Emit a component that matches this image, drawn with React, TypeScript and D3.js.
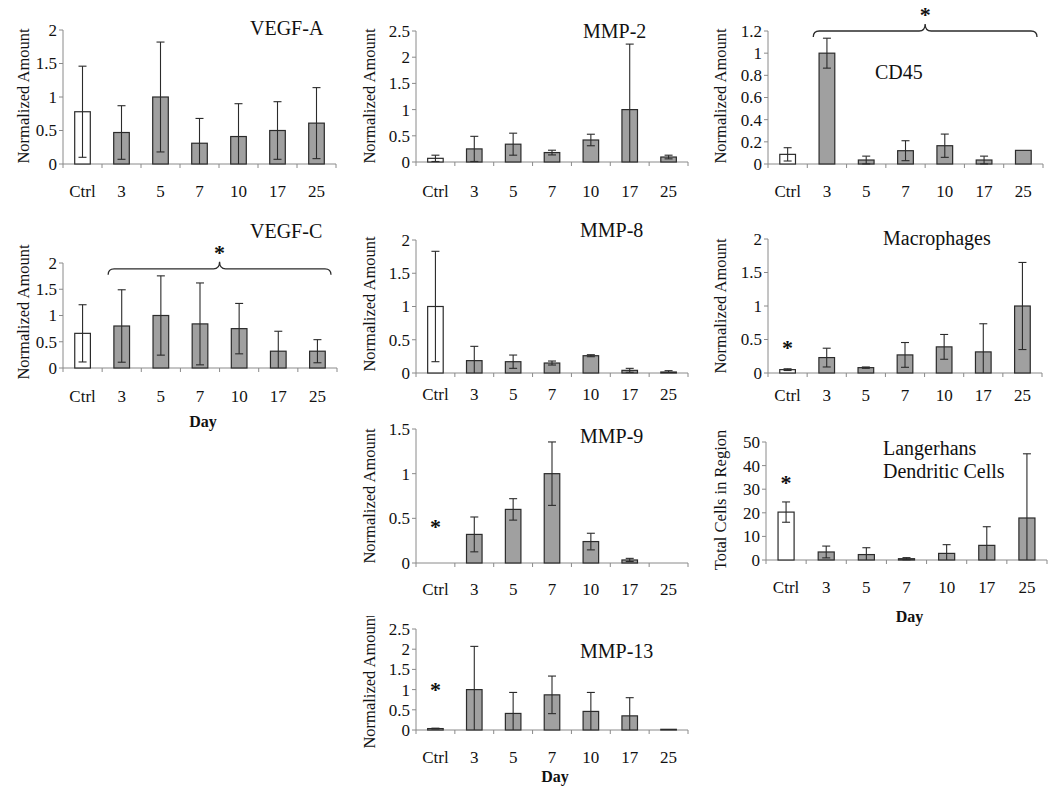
import * as d3 from 'd3';

// Day categories shared by every panel
const categories = ['Ctrl', '3', '5', '7', '10', '17', '25'];

// Values (mean, +/- error)
const vegfA = [0.78, 0.47, 1.0, 0.31, 0.41, 0.5, 0.61];
const vegfAErr = [0.68, 0.4, 0.82, 0.37, 0.49, 0.43, 0.53];
const mmp2 = [0.07, 0.25, 0.34, 0.18, 0.42, 1.0, 0.095];
const mmp2Err = [0.06, 0.24, 0.21, 0.045, 0.11, 1.25, 0.035];
const cd45 = [0.087, 1.0, 0.036, 0.12, 0.165, 0.036, 0.123];
const cd45Err = [0.06, 0.135, 0.035, 0.09, 0.105, 0.035, 0];
const vegfC = [0.66, 0.8, 1.0, 0.84, 0.75, 0.32, 0.32];
const vegfCErr = [0.545, 0.69, 0.755, 0.78, 0.48, 0.38, 0.22];
const mmp8 = [1.0, 0.186, 0.17, 0.15, 0.26, 0.04, 0.015];
const mmp8Err = [0.83, 0.215, 0.1, 0.03, 0.015, 0.03, 0.02];
const macrophages = [0.05, 0.23, 0.08, 0.27, 0.39, 0.315, 1.0];
const macrophagesErr = [0.013, 0.14, 0.01, 0.185, 0.185, 0.42, 0.65];
const mmp9 = [0, 0.32, 0.6, 1.0, 0.24, 0.034, 0];
const mmp9Err = [0, 0.195, 0.12, 0.355, 0.093, 0.018, 0];
const langerhans = [20.3, 3.4, 2.3, 0.55, 2.8, 6.2, 17.8];
const langerhansErr = [4.3, 2.5, 2.9, 0.45, 3.7, 7.9, 27.2];
const mmp13 = [0.035, 1.0, 0.41, 0.87, 0.46, 0.35, 0.017];
const mmp13Err = [0.01, 1.07, 0.52, 0.465, 0.47, 0.45, 0];

// Y tick values
const ticks2 = [0, 0.5, 1, 1.5, 2];
const ticks25 = [0, 0.5, 1, 1.5, 2, 2.5];
const ticksCd45 = [0, 0.2, 0.4, 0.6, 0.8, 1, 1.2];
const ticks15 = [0, 0.5, 1, 1.5];
const ticks50 = [0, 10, 20, 30, 40, 50];

const FONT = '"Liberation Serif", "Times New Roman", serif';
const BAR_FILL = '#a0a0a0';
const INK = '#2b2b2b';
const AXIS = '#8a8a8a';

const panels = [
  { id: 'vegfa', title: ['VEGF-A'], titleX: 250, titleY: 35, values: vegfA, errors: vegfAErr, ticks: ticks2,
    x0: 63, x1: 336, base: 164, top: 30, yLabel: 'Normalized Amount', yLabelX: 29, yLabelY: 96, labelDy: 33 },
  { id: 'mmp2', title: ['MMP-2'], titleX: 583, titleY: 38, values: mmp2, errors: mmp2Err, ticks: ticks25,
    x0: 416, x1: 688, base: 162, top: 31, yLabel: 'Normalized Amount', yLabelX: 375, yLabelY: 96, labelDy: 35 },
  { id: 'cd45', title: ['CD45'], titleX: 875, titleY: 79, values: cd45, errors: cd45Err, ticks: ticksCd45,
    x0: 768, x1: 1043, base: 164, top: 31, yLabel: 'Normalized Amount', yLabelX: 726, yLabelY: 96, labelDy: 33,
    brace: 1.2 },
  { id: 'vegfc', title: ['VEGF-C'], titleX: 250, titleY: 238, values: vegfC, errors: vegfCErr, ticks: ticks2,
    x0: 63, x1: 337, base: 368, top: 263, yLabel: 'Normalized Amount', yLabelX: 29, yLabelY: 312, labelDy: 34,
    brace: 1.89, dayY: 427 },
  { id: 'mmp8', title: ['MMP-8'], titleX: 580, titleY: 237, values: mmp8, errors: mmp8Err, ticks: ticks2,
    x0: 416, x1: 688, base: 373, top: 240, yLabel: 'Normalized Amount', yLabelX: 375, yLabelY: 304, labelDy: 27 },
  { id: 'macro', title: ['Macrophages'], titleX: 883, titleY: 245, values: macrophages, errors: macrophagesErr, ticks: ticks2,
    x0: 768, x1: 1042, base: 373, top: 239, yLabel: 'Normalized Amount', yLabelX: 726, yLabelY: 306, labelDy: 28,
    star: 0.42 },
  { id: 'mmp9', title: ['MMP-9'], titleX: 580, titleY: 443, values: mmp9, errors: mmp9Err, ticks: ticks15,
    x0: 416, x1: 688, base: 563, top: 429, yLabel: 'Normalized Amount', yLabelX: 375, yLabelY: 496, labelDy: 32,
    star: 0.44 },
  { id: 'lang', title: ['Langerhans', 'Dendritic Cells'], titleX: 883, titleY: 455, values: langerhans, errors: langerhansErr, ticks: ticks50,
    x0: 766, x1: 1047, base: 560, top: 442, yLabel: 'Total Cells in Region', yLabelX: 726, yLabelY: 500, labelDy: 33,
    star: 34, dayY: 622 },
  { id: 'mmp13', title: ['MMP-13'], titleX: 580, titleY: 658, values: mmp13, errors: mmp13Err, ticks: ticks25,
    x0: 416, x1: 688, base: 730, top: 629, yLabel: 'Normalized Amount', yLabelX: 375, yLabelY: 681, labelDy: 33,
    star: 1.06, dayY: 782, clipTop: 616 },
];

const fmt = (v: number) => String(+v.toFixed(2));

function Panel({ p }: { p: any }) {
  const yMax = p.ticks[p.ticks.length - 1];
  const y = d3.scaleLinear().domain([0, yMax]).range([p.base, p.top]);
  const x = d3.scaleBand().domain(categories).range([p.x0, p.x1]).padding(0);
  const bw = x.bandwidth() * 0.4;
  const cap = 4;
  const boundaries = categories.map(c => x(c) as number).concat([p.x1]);
  const clipped = p.clipTop !== undefined;

  let brace = null;
  if (p.brace !== undefined) {
    const xL = (x('3') as number) + 6;
    const xR = p.x1 - 6;
    const xm = (xL + xR) / 2;
    const by = y(p.brace);
    const d = 6;
    const path = `M${xL},${by + d} Q${xL},${by} ${xL + d},${by} L${xm - d},${by} Q${xm},${by} ${xm},${by - d - 1} ` +
      `Q${xm},${by} ${xm + d},${by} L${xR - d},${by} Q${xR},${by} ${xR},${by + d}`;
    brace = (
      <g>
        <path d={path} fill="none" stroke={INK} strokeWidth={1.3} />
        <text x={xm} y={by - d - 3} textAnchor="middle" fontSize={22} fontWeight="bold" fill="#111">*</text>
      </g>
    );
  }

  return (
    <g>
      {clipped && (
        <clipPath id={`clip-${p.id}`}>
          <rect x={p.yLabelX - 30} y={p.clipTop} width={40} height={300} />
        </clipPath>
      )}
      {/* y axis */}
      <line x1={p.x0} x2={p.x0} y1={p.base} y2={p.top} stroke={AXIS} />
      {p.ticks.map((t: number) => (
        <g key={t}>
          <line x1={p.x0 - 4} x2={p.x0} y1={y(t)} y2={y(t)} stroke={AXIS} />
          <text x={p.x0 - 6} y={y(t)} dy="0.35em" textAnchor="end" fontSize={17} fill="#111">{fmt(t)}</text>
        </g>
      ))}
      {/* x axis */}
      <line x1={p.x0} x2={p.x1} y1={p.base} y2={p.base} stroke={AXIS} />
      {boundaries.map((bx: number, i: number) => (
        <line key={i} x1={bx} x2={bx} y1={p.base} y2={p.base + 4} stroke={AXIS} />
      ))}
      {categories.map(c => (
        <text key={c} x={(x(c) as number) + x.bandwidth() / 2} y={p.base + p.labelDy} textAnchor="middle" fontSize={17} fill="#111">{c}</text>
      ))}
      {/* bars */}
      {p.values.map((v: number, i: number) => {
        const cx = (x(categories[i]) as number) + x.bandwidth() / 2;
        if (v <= 0) return null;
        return (
          <rect key={i} x={cx - bw / 2} y={y(v)} width={bw} height={p.base - y(v)}
            fill={i === 0 ? '#ffffff' : BAR_FILL} stroke={INK} strokeWidth={1.2} />
        );
      })}
      {/* error bars */}
      {p.values.map((v: number, i: number) => {
        const e = p.errors[i];
        if (!e) return null;
        const cx = (x(categories[i]) as number) + x.bandwidth() / 2;
        const lo = v - e;
        const hi = v + e;
        return (
          <g key={i} stroke={INK} strokeWidth={1.1}>
            <line x1={cx} x2={cx} y1={y(Math.max(0, lo))} y2={y(hi)} />
            <line x1={cx - cap} x2={cx + cap} y1={y(hi)} y2={y(hi)} />
            {lo > 0 && <line x1={cx - cap} x2={cx + cap} y1={y(lo)} y2={y(lo)} />}
          </g>
        );
      })}
      {/* title */}
      <text x={p.titleX} y={p.titleY} fontSize={20} fill="#111">
        {p.title.map((t: string, i: number) => (
          <tspan key={i} x={p.titleX} dy={i === 0 ? 0 : 23}>{t}</tspan>
        ))}
      </text>
      {/* y label */}
      <g clipPath={clipped ? `url(#clip-${p.id})` : undefined}>
        <text transform={`translate(${p.yLabelX},${p.yLabelY}) rotate(-90)`} textAnchor="middle" fontSize={16.5} fill="#111">
          {p.yLabel}
        </text>
      </g>
      {p.star !== undefined && (
        <text x={(x('Ctrl') as number) + x.bandwidth() / 2} y={y(p.star) + 10} textAnchor="middle" fontSize={22} fontWeight="bold" fill="#111">*</text>
      )}
      {brace}
      {p.dayY !== undefined && (
        <text x={(p.x0 + p.x1) / 2 + 3} y={p.dayY} textAnchor="middle" fontSize={16} fontWeight="bold" fill="#111">Day</text>
      )}
    </g>
  );
}

export default function App() {
  return (
    <svg width={1050} height={788} viewBox="0 0 1050 788"
      style={{ position: 'absolute', left: 0, top: 0, background: '#ffffff', fontFamily: FONT }}>
      <rect width={1050} height={788} fill="#ffffff" />
      {panels.map(p => <Panel key={p.id} p={p} />)}
    </svg>
  );
}
